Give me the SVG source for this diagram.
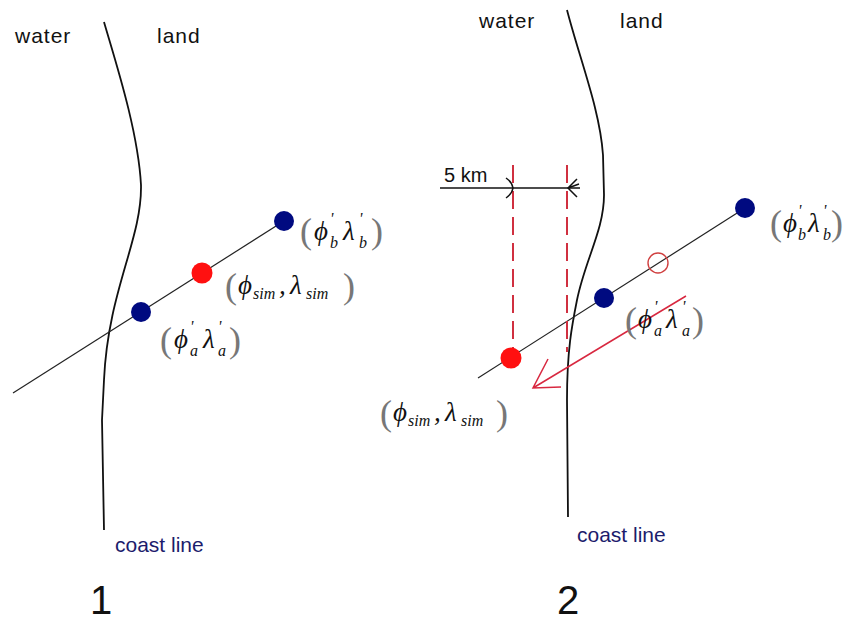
<svg xmlns="http://www.w3.org/2000/svg" width="843" height="622" viewBox="0 0 843 622">
<style>
.lbl{font-family:"Liberation Sans",Arial,sans-serif;font-size:21px;fill:#111;letter-spacing:1px}
.coast{font-family:"Liberation Sans",Arial,sans-serif;font-size:21px;fill:#1c1c6c}
.num{font-family:"Liberation Sans",Arial,sans-serif;font-size:40px;fill:#111;text-anchor:middle}
.km{font-family:"Liberation Sans",Arial,sans-serif;font-size:20px;fill:#111}
.shore{fill:none;stroke:#111;stroke-width:1.8}
.track{fill:none;stroke:#222;stroke-width:1.2}
.blue{fill:#000a80}
.red{fill:#ff1010}
.m{font-family:"Liberation Serif","Times New Roman",serif;font-style:italic;font-size:27px;fill:#111}
.s{font-family:"Liberation Serif","Times New Roman",serif;font-style:italic;font-size:16px;fill:#111}
.p{font-family:"Liberation Serif","Times New Roman",serif;font-size:36px;fill:#777}
.dash{fill:none;stroke:#d03040;stroke-width:2;stroke-dasharray:18 8}
.rarrow{fill:none;stroke:#d82840;stroke-width:1.5}
.dim{fill:none;stroke:#111;stroke-width:1.5}
</style>

<!-- Panel 1 -->
<g id="panel1-text">
<text class="lbl" x="15" y="43">water</text>
<text class="lbl" x="157" y="43">land</text>
<text class="coast" x="115" y="552">coast line</text>
<text class="num" x="101" y="614">1</text>
</g>

<g id="connectors">
<path id="coast1" class="shore" d="M104,22 C115,60 138,130 141,185 C142,240 108,290 104,380 L102,420 L104,530"/>
<path id="track1" class="track" d="M13,393 L284,221"/>
<path id="coast2" class="shore" d="M567,10 C580,60 600,110 603,155 L604,195 C604,230 585,260 577,300 C572,325 567,350 567,400 L568,517"/>
<path id="track2" class="track" d="M478,378 L745,208"/>
<path id="dash-left" class="dash" d="M513,165 L513,350"/>
<path id="dash-right" class="dash" d="M567,165 L567,352"/>
<path id="dimline" class="dim" d="M440,188 L580,188"/>
<path class="dim" d="M506,178 Q512,182 513,188 Q512,194 506,198"/>
<path class="dim" d="M577,179 L568,188 L577,197 M568,188 L579,184"/>
<path id="shift-arrow" class="rarrow" d="M686,296 L533,388 M548,359 L533,388 L561,387"/>
</g>

<g id="p1-a">
<circle class="blue" cx="141" cy="312" r="10"/>
<text class="p" x="160" y="352">(</text>
<text class="m" x="174" y="348">ϕ</text>
<text class="s" x="190" y="332">'</text>
<text class="s" x="190" y="356">a</text>
<text class="m" x="203" y="348">λ</text>
<text class="s" x="218" y="332">'</text>
<text class="s" x="218" y="356">a</text>
<text class="p" x="229" y="352">)</text>
</g>

<g id="p1-sim">
<circle class="red" cx="202" cy="273" r="10.5"/>
<text class="p" x="225" y="298">(</text>
<text class="m" x="238" y="294">ϕ</text>
<text class="s" x="253" y="299">sim</text>
<text class="m" x="279" y="294">,</text>
<text class="m" x="290" y="294">λ</text>
<text class="s" x="306" y="299">sim</text>
<text class="p" x="343" y="298">)</text>
</g>

<g id="p1-b">
<circle class="blue" cx="284" cy="221" r="10"/>
<text class="p" x="300" y="243">(</text>
<text class="m" x="314" y="240">ϕ</text>
<text class="s" x="330" y="224">'</text>
<text class="s" x="330" y="248">b</text>
<text class="m" x="343" y="240">λ</text>
<text class="s" x="359" y="224">'</text>
<text class="s" x="359" y="248">b</text>
<text class="p" x="371" y="243">)</text>
</g>

<!-- Panel 2 -->
<g id="panel2-text">
<text class="lbl" x="479" y="28">water</text>
<text class="lbl" x="620" y="28">land</text>
<text class="km" x="444" y="182">5 km</text>
<text class="coast" x="577" y="542">coast line</text>
<text class="num" x="568" y="614">2</text>
</g>

<g id="p2-sim">
<circle class="red" cx="511" cy="358" r="10.5"/>
<text class="p" x="380" y="425">(</text>
<text class="m" x="393" y="421">ϕ</text>
<text class="s" x="408" y="426">sim</text>
<text class="m" x="434" y="421">,</text>
<text class="m" x="445" y="421">λ</text>
<text class="s" x="461" y="426">sim</text>
<text class="p" x="496" y="425">)</text>
</g>

<g id="p2-a">
<circle class="blue" cx="604" cy="298" r="10"/>
<text class="p" x="625" y="332">(</text>
<text class="m" x="638" y="328">ϕ</text>
<text class="s" x="654" y="312">'</text>
<text class="s" x="654" y="336">a</text>
<text class="m" x="666" y="328">λ</text>
<text class="s" x="682" y="312">'</text>
<text class="s" x="682" y="336">a</text>
<text class="p" x="692" y="332">)</text>
</g>

<g id="p2-hollow">
<circle cx="658" cy="263" r="10" fill="none" stroke="#d04040" stroke-width="1.4"/>
</g>

<g id="p2-b">
<circle class="blue" cx="745" cy="208" r="10"/>
<text class="p" x="770" y="235">(</text>
<text class="m" x="783" y="232">ϕ</text>
<text class="s" x="798" y="216">'</text>
<text class="s" x="798" y="240">b</text>
<text class="m" x="808" y="232">λ</text>
<text class="s" x="823" y="216">'</text>
<text class="s" x="823" y="240">b</text>
<text class="p" x="831" y="235">)</text>
</g>
</svg>
